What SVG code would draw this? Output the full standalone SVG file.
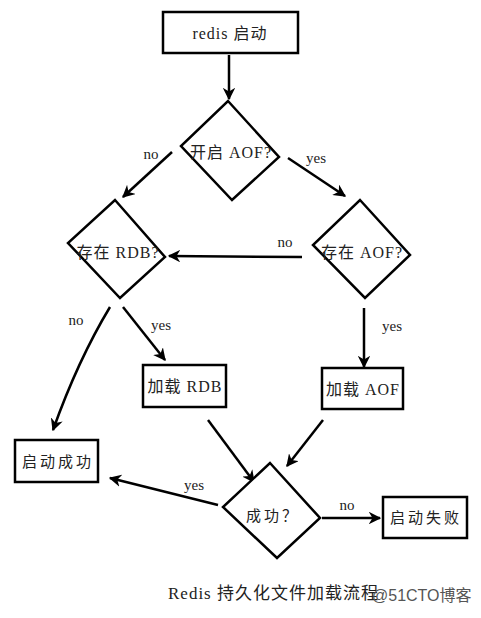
<svg xmlns="http://www.w3.org/2000/svg" width="481" height="618" viewBox="0 0 481 618">
<defs>
<marker id="ah" viewBox="0 0 10 10" refX="9" refY="5" markerWidth="5" markerHeight="5" markerUnits="strokeWidth" orient="auto">
<path d="M0,0 L10,5 L0,10 L3,5 Z" fill="#000"/>
</marker>
<style>
.box{fill:#fff;stroke:#000;stroke-width:2.5}
.dia{fill:#fff;stroke:#000;stroke-width:2.5;stroke-linejoin:miter}
.lbl{font-family:"Liberation Serif","Noto Sans CJK SC",serif;font-size:16px;fill:#222;letter-spacing:1px}
.cn{font-family:"Liberation Serif","Noto Sans CJK SC",serif;font-size:16px;fill:#222;letter-spacing:1px}
.cn4{font-family:"Liberation Serif","Noto Sans CJK SC",serif;font-size:15px;fill:#222;letter-spacing:3px}
.edge{fill:none;stroke:#000;stroke-width:2.5;marker-end:url(#ah)}
.el{font-family:"Liberation Serif",serif;font-size:15px;fill:#222}
</style>
</defs>
<rect width="481" height="618" fill="#fff"/>
<g id="connectors">
<path class="edge" d="M229,55 L229,99"/>
<path class="edge" d="M172,152 L123,197"/>
<path class="edge" d="M288,158 L345,196"/>
<path class="edge" d="M302,257 L169,256"/>
<path class="edge" d="M110,307 Q78,360 53,430"/>
<path class="edge" d="M123,307 L165,360"/>
<path class="edge" d="M364,308 L364,367"/>
<path class="edge" d="M208,420 L254,482"/>
<path class="edge" d="M323,420 L287,466"/>
<path class="edge" d="M322,518 L380,518"/>
<path class="edge" d="M218,505 L110,478"/>
<text class="el" x="151" y="159" text-anchor="middle">no</text>
<text class="el" x="316" y="163" text-anchor="middle">yes</text>
<text class="el" x="285" y="247" text-anchor="middle">no</text>
<text class="el" x="76" y="325" text-anchor="middle">no</text>
<text class="el" x="161" y="330" text-anchor="middle">yes</text>
<text class="el" x="392" y="331" text-anchor="middle">yes</text>
<text class="el" x="347" y="510" text-anchor="middle">no</text>
<text class="el" x="194" y="490" text-anchor="middle">yes</text>
</g>
<g id="start">
<rect class="box" x="163" y="12" width="135" height="41"/>
<text class="lbl" x="230" y="39" text-anchor="middle">redis 启动</text>
</g>
<g id="aof-on">
<path class="dia" d="M228,101 L279,157 L232,200 L181,146 Z"/>
<text class="cn" x="231" y="158" text-anchor="middle">开启 AOF?</text>
</g>
<g id="rdb-exists">
<path class="dia" d="M115,200 L165,257 L120,298 L68,243 Z"/>
<text class="cn" x="118" y="258" text-anchor="middle">存在 RDB?</text>
</g>
<g id="aof-exists">
<path class="dia" d="M360,200 L410,255 L365,298 L313,245 Z"/>
<text class="cn" x="362" y="258" text-anchor="middle">存在 AOF?</text>
</g>
<g id="load-rdb">
<rect class="box" x="143" y="365" width="83" height="42"/>
<text class="cn" x="185" y="392" text-anchor="middle">加载 RDB</text>
</g>
<g id="load-aof">
<rect class="box" x="322" y="368" width="81" height="41"/>
<text class="cn" x="363" y="395" text-anchor="middle">加载 AOF</text>
</g>
<g id="success">
<rect class="box" x="15" y="440" width="83" height="42"/>
<text class="cn4" x="58" y="467" text-anchor="middle">启动成功</text>
</g>
<g id="ok">
<path class="dia" d="M270,463 L320,518 L277,558 L223,507 Z"/>
<text class="cn4" x="273" y="521" text-anchor="middle">成功？</text>
</g>
<g id="fail">
<rect class="box" x="383" y="497" width="84" height="41"/>
<text class="cn4" x="426" y="523" text-anchor="middle">启动失败</text>
</g>
<text x="168" y="599" font-family="'Liberation Serif','Noto Sans CJK SC',serif" font-size="17" letter-spacing="1" fill="#222">Redis 持久化文件加载流程</text>
<text x="372" y="601" font-family="'Liberation Sans','Noto Sans CJK SC',sans-serif" font-size="16" fill="#555">@51CTO博客</text>
</svg>
